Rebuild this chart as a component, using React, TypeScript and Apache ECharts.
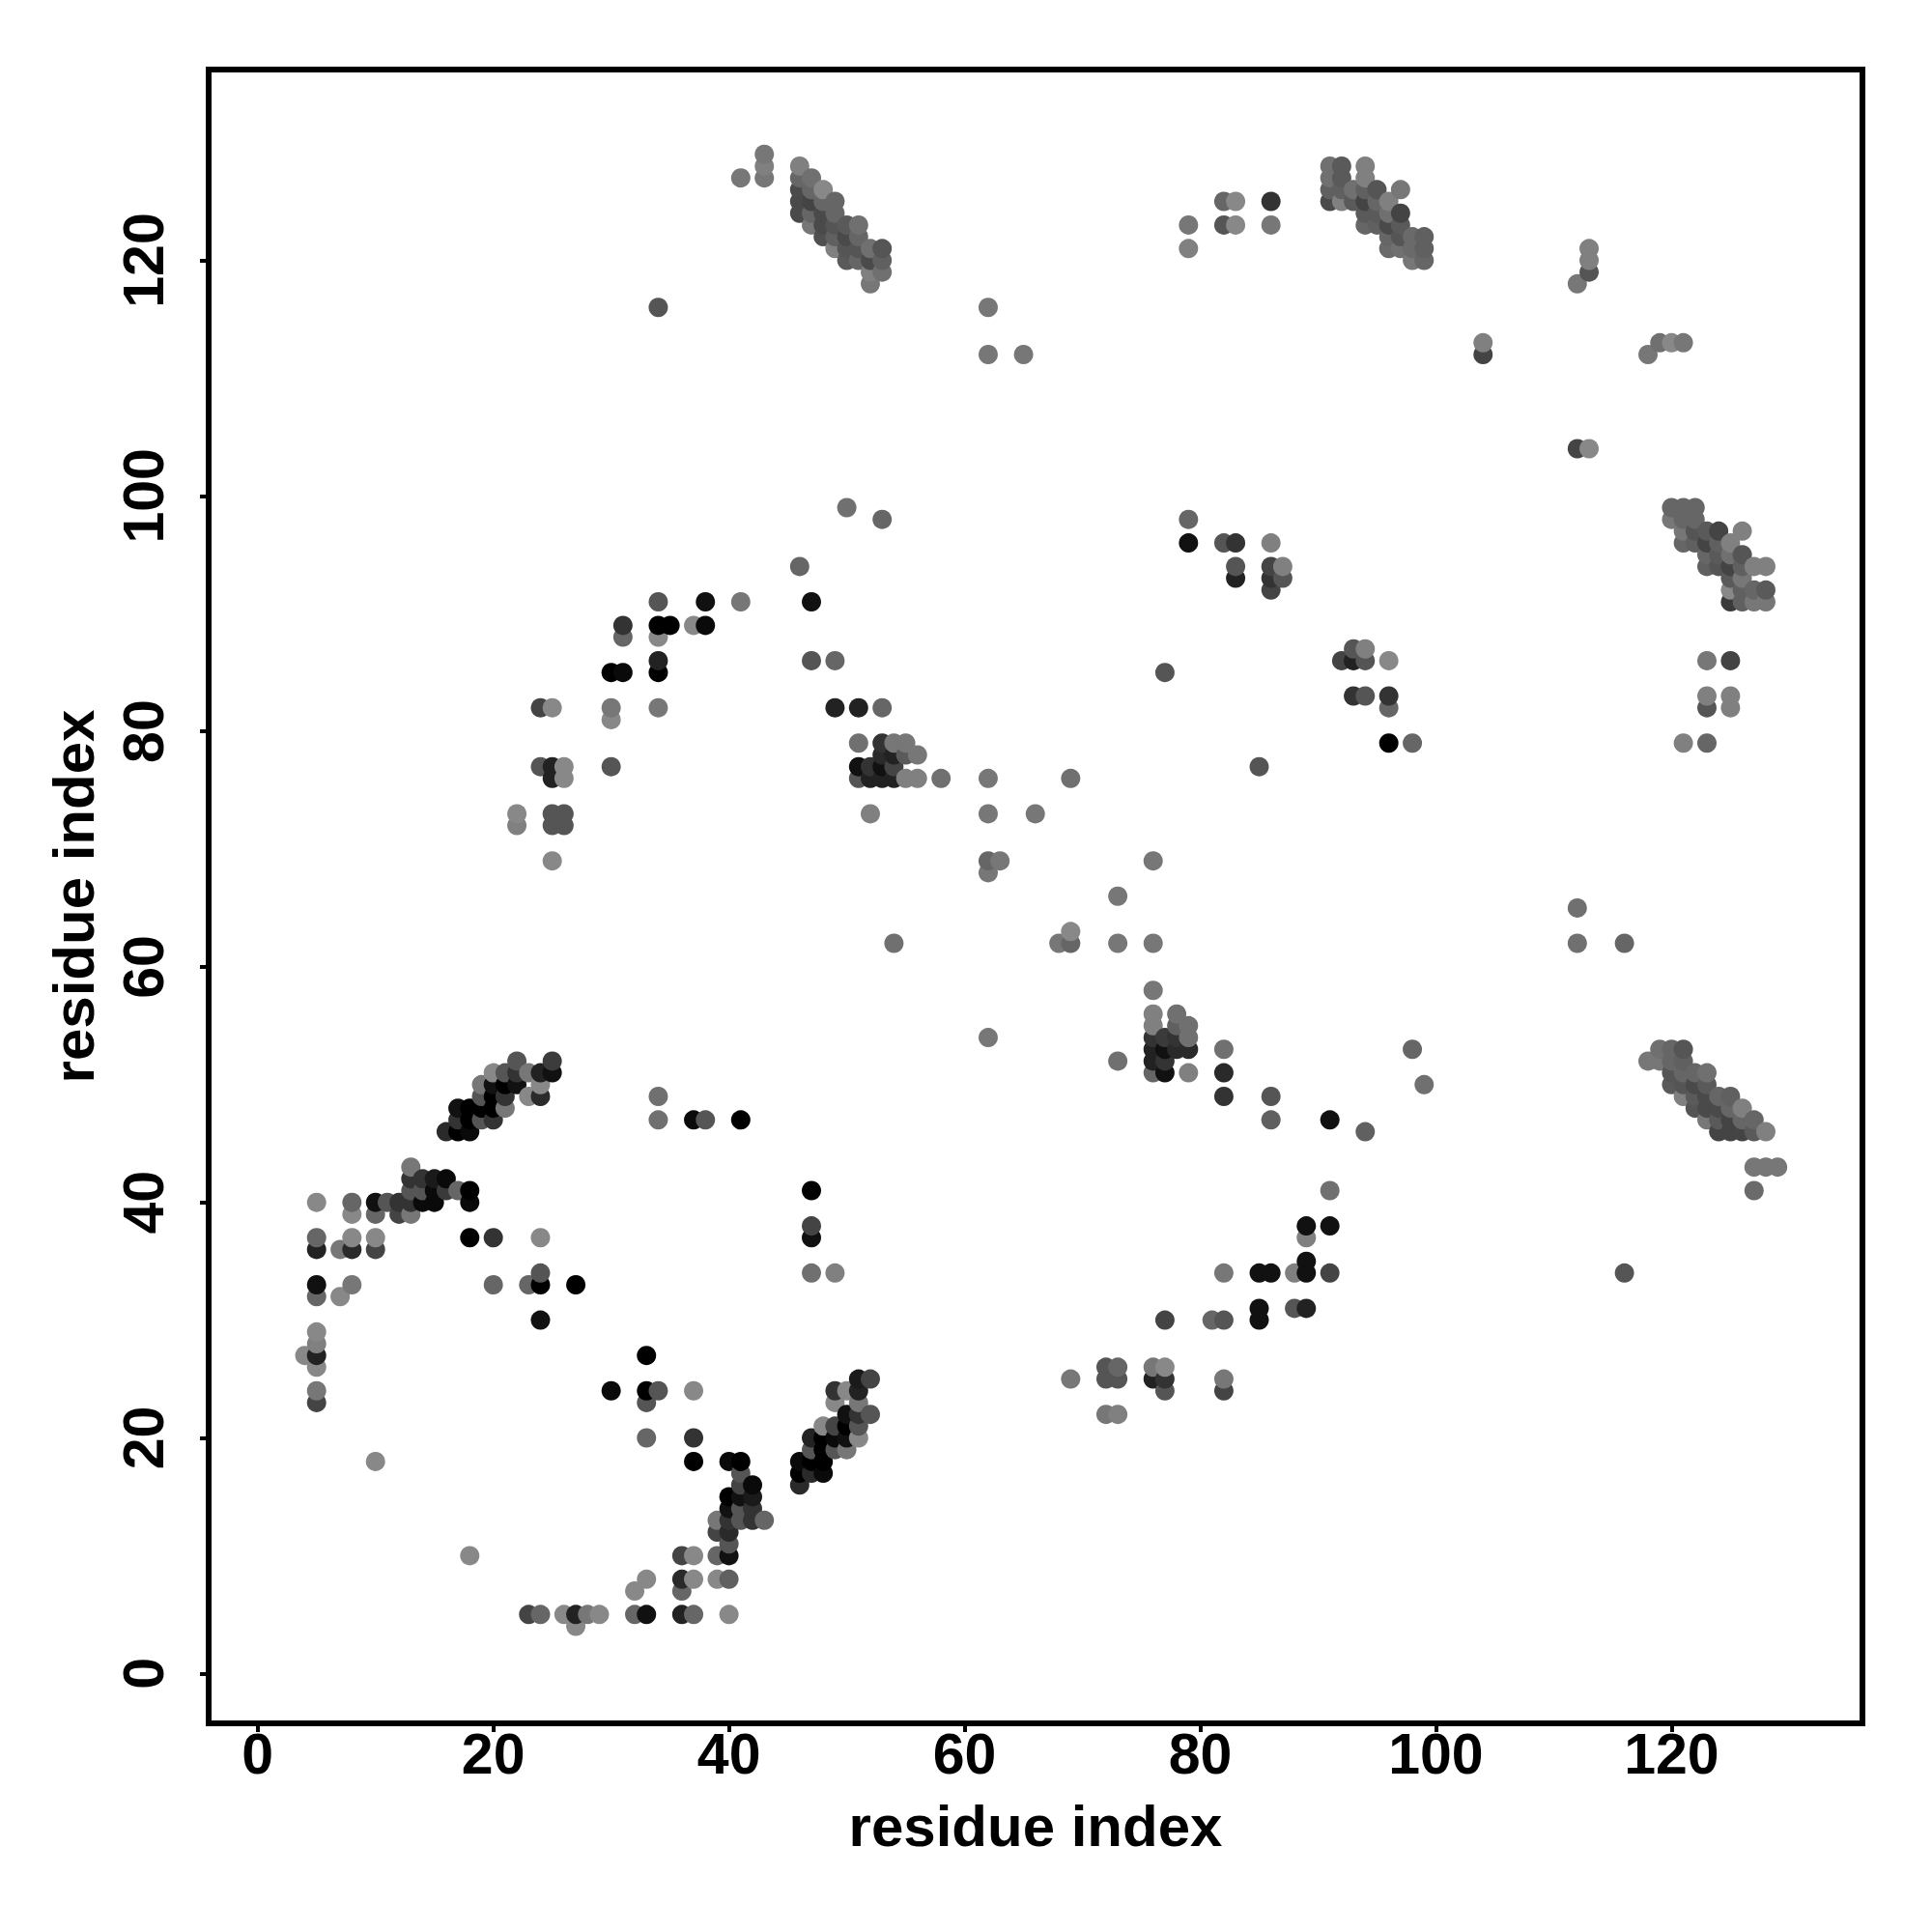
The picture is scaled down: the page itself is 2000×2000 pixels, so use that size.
import React, { useEffect, useRef } from "react";
import * as echarts from "echarts";

type P = [number, number, string];

const tickValues = [0, 20, 40, 60, 80, 100, 120];
const axisName = "residue index";

const lowerLeft: P[] = [
  [22,52,"#555"],[25,52,"#3c3c3c"],[20,51,"#888"],[21,51,"#555"],[22,51,"#333"],[23,51,"#777"],[24,51,"#222"],[25,51,"#111"],
  [19,50,"#777"],[20,50,"#111"],[21,50,"#000"],[22,50,"#111"],[24,50,"#888"],[19,49,"#555"],[20,49,"#000"],[21,49,"#333"],[23,49,"#888"],[24,49,"#2a2a2a"],
  [17,48,"#111"],[18,48,"#000"],[19,48,"#000"],[20,48,"#000"],[21,48,"#777"],[17,47,"#333"],[18,47,"#000"],[19,47,"#555"],[20,47,"#333"],
  [16,46,"#2a2a2a"],[17,46,"#000"],[18,46,"#0a0a0a"],[13,43,"#777"],[13,42,"#333"],[14,42,"#333"],[15,42,"#1a1a1a"],[16,42,"#0a0a0a"],
  [13,41,"#555"],[14,41,"#555"],[15,41,"#0a0a0a"],[16,41,"#3a3a3a"],[17,41,"#666"],[18,41,"#000"],
  [5,40,"#888"],[8,40,"#666"],[10,40,"#111"],[11,40,"#555"],[12,40,"#333"],[13,40,"#333"],[14,40,"#0a0a0a"],[15,40,"#0a0a0a"],[18,40,"#0a0a0a"],
  [8,39,"#888"],[10,39,"#666"],[12,39,"#444"],[13,39,"#777"],[5,37,"#666"],[8,37,"#888"],[10,37,"#888"],[18,37,"#000"],[20,37,"#333"],[24,37,"#888"],
  [5,36,"#222"],[7,36,"#777"],[8,36,"#2a2a2a"],[10,36,"#444"],[24,34,"#555"],[5,33,"#111"],[8,33,"#777"],[20,33,"#666"],[23,33,"#666"],[24,33,"#000"],[27,33,"#000"],
  [5,32,"#666"],[7,32,"#888"],[24,30,"#111"],[5,29,"#888"],[5,28,"#808080"],[4,27,"#888"],[5,27,"#222"],[5,26,"#888"],[5,24,"#777"],[5,23,"#444"],
  [10,18,"#888"],[18,10,"#888"],
];

const lowerMiddle: P[] = [
  [33,27,"#000"],[30,24,"#0a0a0a"],[33,24,"#000"],[34,24,"#555"],[37,24,"#888"],[33,23,"#555"],[33,20,"#666"],[37,20,"#333"],[37,18,"#000"],
  [40,18,"#0a0a0a"],[41,18,"#000"],[41,17,"#555"],[41,16,"#444"],[42,16,"#0a0a0a"],[40,15,"#000"],[41,15,"#111"],[42,15,"#1a1a1a"],
  [40,14,"#111"],[41,14,"#555"],[42,14,"#333"],[39,13,"#777"],[40,13,"#333"],[41,13,"#555"],[42,13,"#333"],[43,13,"#666"],[39,12,"#444"],[40,12,"#2a2a2a"],[40,11,"#555"],
  [36,10,"#444"],[37,10,"#888"],[39,10,"#666"],[40,10,"#111"],[33,8,"#888"],[36,8,"#2a2a2a"],[37,8,"#888"],[39,8,"#888"],[40,8,"#606060"],[32,7,"#888"],[36,7,"#666"],
  [23,5,"#444"],[24,5,"#666"],[26,5,"#888"],[27,5,"#222"],[28,5,"#777"],[29,5,"#888"],[32,5,"#666"],[33,5,"#111"],[36,5,"#222"],[37,5,"#666"],[40,5,"#888"],[27,4,"#888"],
  [51,25,"#1a1a1a"],[52,25,"#444"],[49,24,"#333"],[50,24,"#888"],[51,24,"#222"],[49,23,"#888"],[51,23,"#777"],[50,22,"#111"],[51,22,"#333"],[52,22,"#555"],
  [48,21,"#888"],[49,21,"#444"],[50,21,"#000"],[51,21,"#555"],[47,20,"#222"],[48,20,"#000"],[49,20,"#0a0a0a"],[50,20,"#111"],[51,20,"#888"],
  [47,19,"#555"],[48,19,"#000"],[49,19,"#555"],[50,19,"#777"],[46,18,"#0a0a0a"],[47,18,"#000"],[48,18,"#000"],[46,17,"#000"],[47,17,"#2a2a2a"],[48,17,"#0a0a0a"],[46,16,"#2a2a2a"],
];

const upperMiddleBlock: P[] = [
  [43,129,"#777"],[43,128,"#808080"],[43,127,"#777"],[41,127,"#777"],
  [46,128,"#808080"],[46,127,"#666"],[46,126,"#4a4a4a"],[46,125,"#4a4a4a"],[46,124,"#4a4a4a"],
  [47,127,"#707070"],[47,126,"#666"],[47,125,"#444"],[47,124,"#666"],[47,123,"#777"],
  [48,126,"#888"],[48,125,"#666"],[48,124,"#4a4a4a"],[48,123,"#4a4a4a"],[48,122,"#505050"],
  [49,125,"#666"],[49,124,"#666"],[49,123,"#555"],[49,122,"#606060"],[49,121,"#808080"],
  [50,123,"#5a5a5a"],[50,122,"#4a4a4a"],[50,121,"#555"],[50,120,"#5a5a5a"],
  [51,123,"#707070"],[51,122,"#666"],[51,121,"#555"],[51,120,"#666"],
  [52,121,"#707070"],[52,120,"#4a4a4a"],[52,119,"#808080"],[52,118,"#777"],
  [53,121,"#555"],[53,120,"#606060"],[53,119,"#707070"],
];

const upperRightBlock: P[] = [
  [91,128,"#707070"],[91,127,"#707070"],[91,126,"#606060"],[91,125,"#4a4a4a"],
  [92,128,"#5a5a5a"],[92,127,"#5a5a5a"],[92,126,"#606060"],[92,125,"#808080"],
  [93,126,"#707070"],[93,125,"#5a5a5a"],
  [94,128,"#808080"],[94,127,"#808080"],[94,126,"#606060"],[94,125,"#444"],[94,124,"#5a5a5a"],[94,123,"#666"],
  [95,126,"#555"],[95,125,"#666"],[95,124,"#5a5a5a"],[95,123,"#606060"],
  [96,125,"#808080"],[96,124,"#707070"],[96,123,"#4a4a4a"],[96,122,"#666"],[96,121,"#6a6a6a"],
  [97,126,"#777"],[97,124,"#444"],[97,123,"#5a5a5a"],[97,122,"#555"],[97,121,"#707070"],
  [98,122,"#6a6a6a"],[98,121,"#6a6a6a"],[98,120,"#777"],
  [99,122,"#606060"],[99,121,"#606060"],[99,120,"#666"],
];

const rightUpperBlock: P[] = [
  [120,99,"#666"],[120,98,"#777"],[121,99,"#666"],[121,98,"#666"],[121,97,"#777"],[121,96,"#666"],
  [122,99,"#666"],[122,98,"#666"],[122,97,"#555"],[122,96,"#606060"],
  [123,97,"#5a5a5a"],[123,96,"#444"],[123,95,"#666"],[123,94,"#606060"],
  [124,97,"#444"],[124,96,"#606060"],[124,95,"#5a5a5a"],[124,94,"#555"],
  [125,96,"#808080"],[125,95,"#707070"],[125,94,"#444"],[125,93,"#5a5a5a"],[125,92,"#888"],[125,91,"#3a3a3a"],
  [126,97,"#808080"],[126,95,"#555"],[126,94,"#606060"],[126,93,"#777"],[126,92,"#606060"],[126,91,"#606060"],
  [127,94,"#808080"],[127,92,"#666"],[127,91,"#777"],[128,94,"#808080"],[128,92,"#5a5a5a"],[128,91,"#777"],
];

const rightLowerBlock: P[] = [
  [119,53,"#707070"],[120,53,"#666"],[121,53,"#555"],[118,52,"#777"],[119,52,"#777"],[120,52,"#666"],[121,52,"#606060"],
  [120,51,"#555"],[121,51,"#666"],[122,51,"#666"],[123,51,"#707070"],[120,50,"#5a5a5a"],[121,50,"#555"],[122,50,"#4a4a4a"],[123,50,"#5a5a5a"],
  [121,49,"#808080"],[122,49,"#5a5a5a"],[123,49,"#4a4a4a"],[124,49,"#666"],[125,49,"#606060"],
  [122,48,"#555"],[123,48,"#4a4a4a"],[124,48,"#4a4a4a"],[125,48,"#666"],[126,48,"#808080"],
  [123,47,"#777"],[124,47,"#5a5a5a"],[125,47,"#444"],[126,47,"#666"],[127,47,"#666"],
  [124,46,"#444"],[125,46,"#444"],[126,46,"#444"],[127,46,"#5a5a5a"],[128,46,"#808080"],
  [127,43,"#777"],[128,43,"#777"],[129,43,"#777"],[127,41,"#6a6a6a"],
];

const centreBlocks: P[] = [
  [51,79,"#707070"],[53,79,"#333"],[54,79,"#777"],[55,79,"#777"],[53,78,"#2a2a2a"],[54,78,"#222"],[55,78,"#5a5a5a"],[56,78,"#777"],
  [51,77,"#111"],[52,77,"#333"],[53,77,"#111"],[54,77,"#444"],[51,76,"#555"],[52,76,"#222"],[53,76,"#222"],[54,76,"#222"],[55,76,"#808080"],[56,76,"#808080"],[58,76,"#707070"],
  [76,58,"#777"],[76,56,"#808080"],[78,56,"#707070"],[76,55,"#808080"],[78,55,"#606060"],[79,55,"#707070"],
  [76,54,"#333"],[77,54,"#3a3a3a"],[78,54,"#333"],[79,54,"#707070"],[76,53,"#222"],[77,53,"#111"],[78,53,"#2a2a2a"],[79,53,"#2a2a2a"],
  [76,52,"#222"],[77,52,"#333"],[76,51,"#666"],[77,51,"#111"],[79,51,"#808080"],[82,53,"#707070"],[82,51,"#2a2a2a"],[82,49,"#333"],
];

const scatteredUpper: P[] = [
  [34,116,"#555"],[62,116,"#777"],[62,112,"#777"],[65,112,"#777"],[79,123,"#777"],[79,121,"#808080"],[82,125,"#666"],[83,125,"#888"],[82,123,"#555"],[83,123,"#888"],[86,125,"#333"],[86,123,"#777"],
  [104,113,"#808080"],[104,112,"#444"],[113,121,"#808080"],[113,120,"#808080"],[113,119,"#555"],[112,118,"#777"],[118,112,"#777"],[119,113,"#707070"],[120,113,"#888"],[121,113,"#777"],
  [112,104,"#444"],[113,104,"#888"],[50,99,"#707070"],[53,98,"#666"],[46,94,"#666"],[47,91,"#111"],[41,91,"#777"],[38,91,"#111"],[37,89,"#888"],[38,89,"#0a0a0a"],
  [34,91,"#555"],[34,89,"#000"],[35,89,"#000"],[34,88,"#888"],[31,89,"#333"],[31,88,"#666"],[30,85,"#000"],[31,85,"#0a0a0a"],[34,86,"#222"],[34,85,"#000"],[34,82,"#777"],
  [30,82,"#777"],[30,81,"#888"],[30,77,"#555"],[47,86,"#555"],[49,86,"#666"],[49,82,"#222"],[51,82,"#222"],[53,82,"#666"],
  [24,82,"#444"],[25,82,"#888"],[24,77,"#555"],[25,77,"#222"],[26,77,"#888"],[25,76,"#222"],[26,76,"#888"],[22,73,"#888"],[22,72,"#808080"],[25,73,"#555"],[26,73,"#555"],[25,72,"#555"],[26,72,"#555"],[25,69,"#888"],
  [54,62,"#707070"],[52,73,"#808080"],[62,76,"#777"],[62,73,"#777"],[66,73,"#777"],[69,76,"#707070"],[62,69,"#666"],[63,69,"#777"],[62,68,"#777"],
  [69,63,"#888"],[68,62,"#777"],[69,62,"#666"],[73,66,"#777"],[73,62,"#777"],[76,62,"#777"],[76,69,"#777"],[62,54,"#777"],[73,52,"#707070"],
  [77,85,"#555"],[79,98,"#666"],[79,96,"#111"],[82,96,"#555"],[83,96,"#333"],[83,94,"#555"],[83,93,"#222"],[86,96,"#808080"],[86,94,"#444"],[87,94,"#808080"],[86,93,"#333"],[87,93,"#555"],[86,92,"#444"],
  [92,86,"#444"],[93,87,"#555"],[93,86,"#222"],[94,87,"#808080"],[94,86,"#555"],[96,86,"#888"],[93,83,"#333"],[94,83,"#555"],[96,83,"#333"],[96,82,"#666"],[96,79,"#000"],[98,79,"#666"],[85,77,"#555"],
  [123,86,"#777"],[125,86,"#444"],[123,83,"#808080"],[125,83,"#808080"],[123,82,"#555"],[125,82,"#808080"],[121,79,"#808080"],[123,79,"#666"],
  [112,65,"#707070"],[112,62,"#707070"],[116,62,"#666"],
];

const scatteredLower: P[] = [
  [98,53,"#666"],[99,50,"#707070"],[91,47,"#111"],[94,46,"#606060"],[86,49,"#555"],[86,47,"#606060"],
  [34,49,"#707070"],[34,47,"#707070"],[37,47,"#0a0a0a"],[38,47,"#555"],[41,47,"#000"],[47,41,"#000"],[47,38,"#444"],[47,37,"#111"],[47,34,"#707070"],[49,34,"#808080"],
  [91,41,"#707070"],[89,38,"#111"],[91,38,"#111"],[89,37,"#808080"],[89,35,"#111"],[89,34,"#111"],[91,34,"#444"],[88,34,"#808080"],[85,34,"#111"],[86,34,"#111"],[82,34,"#777"],
  [85,31,"#111"],[85,30,"#111"],[88,31,"#555"],[89,31,"#222"],[81,30,"#666"],[82,30,"#555"],[77,30,"#444"],[116,34,"#555"],[82,25,"#777"],[82,24,"#444"],
  [69,25,"#777"],[72,26,"#555"],[73,26,"#666"],[72,25,"#555"],[73,25,"#555"],[72,22,"#777"],[73,22,"#808080"],[76,26,"#777"],[77,26,"#888"],[76,25,"#222"],[77,25,"#333"],[77,24,"#555"],
];

const allPoints: P[] = [
  ...lowerLeft, ...lowerMiddle, ...upperMiddleBlock, ...upperRightBlock, ...rightUpperBlock,
  ...rightLowerBlock, ...centreBlocks, ...scatteredUpper, ...scatteredLower,
].sort((a, b) => a[0] - b[0] || a[1] - b[1]);

const FONT = "'Liberation Sans', Arial, sans-serif";

const axisCommon = {
  type: "value" as const,
  nameLocation: "middle" as const,
  name: axisName,
  nameMoveOverlap: false,
  nameTextStyle: { fontFamily: FONT, fontWeight: "bold" as const, fontSize: 60, color: "#000" },
  axisLine: { show: false, onZero: false },
  splitLine: { show: false },
  axisTick: { show: true, length: 9, customValues: tickValues, lineStyle: { color: "#000", width: 4 } },
};

export default function App() {
  const ref = useRef<HTMLDivElement>(null);
  useEffect(() => {
    const chart = echarts.init(ref.current!, undefined, { renderer: "svg" });
    chart.setOption({
      animation: false,
      backgroundColor: "#fff",
      grid: { show: true, left: 216, top: 72, width: 1712, height: 1712, borderColor: "#000", borderWidth: 6, backgroundColor: "transparent", z: 5 },
      xAxis: {
        ...axisCommon,
        min: -4.16,
        max: 136.2,
        nameGap: 76,
        axisLabel: { customValues: tickValues, margin: 2, fontFamily: FONT, fontWeight: "bold", fontSize: 59, color: "#000" },
      },
      yAxis: {
        ...axisCommon,
        min: -4.24,
        max: 136.2,
        nameGap: 110,
        axisLabel: { customValues: tickValues, rotate: 90, margin: 38, fontFamily: FONT, fontWeight: "bold", fontSize: 59, color: "#000" },
      },
      series: [
        {
          type: "scatter",
          symbol: "circle",
          symbolSize: 20,
          silent: true,
          data: allPoints.map((p) => ({ value: [p[0], p[1]], itemStyle: { color: p[2], opacity: 1 } })),
        },
      ],
    });
    return () => chart.dispose();
  }, []);
  return <div ref={ref} style={{ position: "absolute", left: 0, top: 0, width: 2000, height: 2000 }} />;
}
